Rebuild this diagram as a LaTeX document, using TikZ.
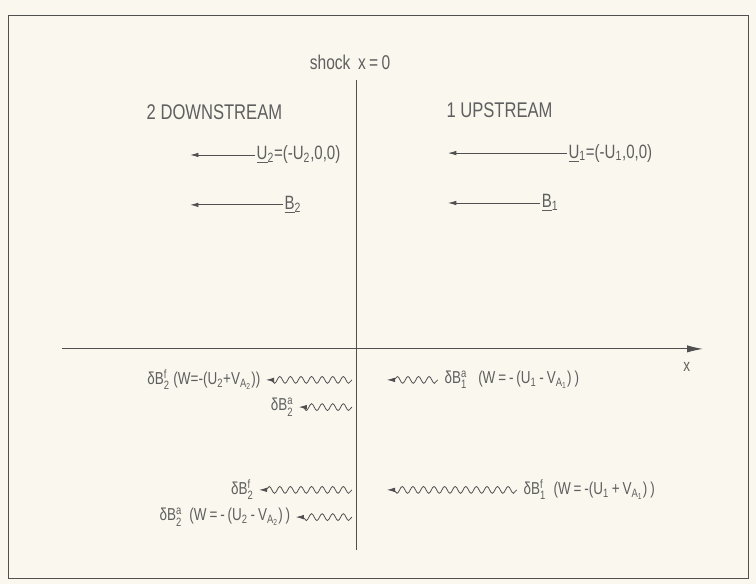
\documentclass[tikz,border=0pt]{standalone}
\usepackage{amsmath}
\usepackage{fontspec}
\setmainfont{Liberation Sans}[FakeStretch=0.78]
\usepackage{tikz}
\usetikzlibrary{arrows.meta,decorations.pathmorphing}
\definecolor{paper}{RGB}{250,247,238}
\definecolor{ink}{RGB}{80,80,80}
\definecolor{txt}{RGB}{95,95,95}
\newcommand{\sx}[2]{$^{\text{#1}}_{\text{#2}}$}
\newcommand{\lo}[1]{$_{\text{#1}}$}

\begin{document}
\begin{tikzpicture}[>={Latex[length=2.2mm,width=1.2mm]},
  font=\fontsize{13}{15}\selectfont,text=txt,
  lab/.style={inner sep=1pt},
  flow/.style={->,ink,semithick},
  wave/.style={->,ink,semithick,shorten >=1mm,decorate,decoration={snake,segment length=2.8mm,amplitude=0.9mm,post length=2mm}}]
\fill[paper] (0,0) rectangle (20,15.45);
\useasboundingbox (0,0) rectangle (20,15.45);
\draw[ink,thin] (0.21,0.16) rectangle (19.79,15.05);

% shock and axis
\node[lab,font=\fontsize{15}{17}\selectfont] (shock) at (9.26,13.81) {shock\, x\,=\,0};
\coordinate (shtop) at (9.44,13.33);
\coordinate (shbot) at (9.44,0.90);
\draw[ink,thick] (shtop) -- (shbot);
\coordinate (axl) at (1.64,6.22);
\node[lab,anchor=east] (axr) at (18.6,6.22) {};
\draw[ink,thick,-{Latex[length=4.2mm,width=1.9mm]}] (axl) -- (axr.east);
\node[lab] (xlab) at (18.17,5.75) {x};

% the two regions
\node[lab,anchor=west,font=\fontsize{16}{18}\selectfont] (down) at (3.84,12.49) {2 DOWNSTREAM};
\node[lab,anchor=west,font=\fontsize{16}{18}\selectfont] (up) at (11.77,12.54) {1 UPSTREAM};

\node[lab,anchor=west,font=\fontsize{14.5}{16}\selectfont] (u2) at (6.75,11.35) {\underline{U}\lo{2}=(-U\lo{2},0,0)};
\coordinate (u2tip) at (5.03,11.35);
\draw[flow] (u2.west) -- (u2tip);
\node[lab,anchor=west,font=\fontsize{14.5}{16}\selectfont] (b2) at (7.49,10.03) {\underline{B}\lo{2}};
\coordinate (b2tip) at (5.03,10.03);
\draw[flow] (b2.west) -- (b2tip);

\node[lab,anchor=west,font=\fontsize{14.5}{16}\selectfont] (u1) at (15.0,11.40) {\underline{U}\lo{1}=(-U\lo{1},0,0)};
\coordinate (u1tip) at (11.85,11.40);
\draw[flow] (u1.west) -- (u1tip);
\node[lab,anchor=west,font=\fontsize{14.5}{16}\selectfont] (b1) at (14.29,10.08) {\underline{B}\lo{1}};
\coordinate (b1tip) at (11.85,10.08);
\draw[flow] (b1.west) -- (b1tip);

% perturbations, downstream side
\node[lab,anchor=east] (db2f) at (6.93,5.40) {δB\sx{f}{2} (W=-(U\lo{2}+V$_{\text{A}_{\text{2}}}$))};
\coordinate (w2f) at (9.31,5.40);
\draw[wave] (w2f) -- (db2f.east);
\node[lab,anchor=east] (db2a) at (7.80,4.68) {δB\sx{a}{2}};
\coordinate (w2a) at (9.31,4.68);
\draw[wave] (w2a) -- (db2a.east);
\node[lab,anchor=east] (db2fb) at (6.75,2.49) {δB\sx{f}{2}};
\coordinate (w2fb) at (9.31,2.49);
\draw[wave] (w2fb) -- (db2fb.east);
\node[lab,anchor=east] (db2ab) at (7.72,1.77) {δB\sx{a}{2} \ (W\,=\,-\,(U\lo{2}\,-\,V$_{\text{A}_{\text{2}}}$)\,)};
\coordinate (w2ab) at (9.31,1.77);
\draw[wave] (w2ab) -- (db2ab.east);

% perturbations, upstream side
\node[lab,anchor=west,inner xsep=5pt] (db1a) at (11.58,5.40) {δB\sx{a}{1} \ \ (W\,=\,-\,(U\lo{1}\,-\,V$_{\text{A}_{\text{1}}}$)\,)};
\coordinate (w1a) at (10.13,5.40);
\draw[wave] (db1a.west) -- (w1a);
\node[lab,anchor=west,inner xsep=5pt] (db1f) at (13.67,2.49) {δB\sx{f}{1} \ (W\,=\,-(U\lo{1}\,+\,V$_{\text{A}_{\text{1}}}$)\,)};
\coordinate (w1f) at (10.13,2.49);
\draw[wave] (db1f.west) -- (w1f);
\end{tikzpicture}
\end{document}
